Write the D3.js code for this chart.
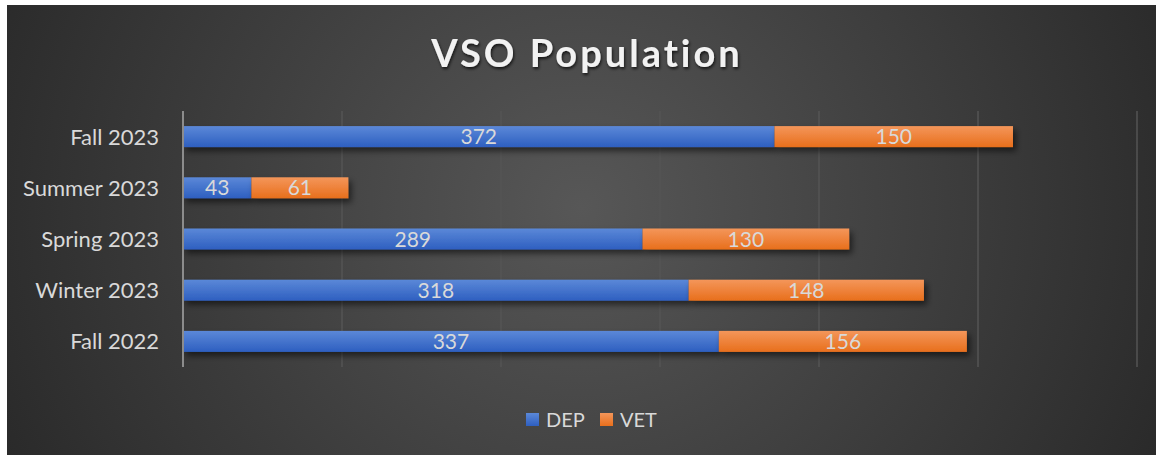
<!DOCTYPE html>
<html>
<head>
<meta charset="utf-8">
<script src="https://cdn.jsdelivr.net/npm/d3@7"></script>
<style>
  html, body { margin: 0; padding: 0; background: #fff; }
  svg { display: block; }
  text { font-family: Lato, "Open Sans", sans-serif; }
</style>
</head>
<body>
<svg id="chart"></svg>
<script>
// Data
const categories = ['Fall 2023', 'Summer 2023', 'Spring 2023', 'Winter 2023', 'Fall 2022'];
const depValues = [372, 43, 289, 318, 337];
const vetValues = [150, 61, 130, 148, 156];
const seriesNames = ['DEP', 'VET'];
const xTicks = [0, 100, 200, 300, 400, 500, 600];

const width = 1156;
const height = 455;

const svg = d3.select('#chart')
    .attr('width', width)
    .attr('height', height);

const defs = svg.append('defs');

// Background radial gradient
const bg = defs.append('radialGradient')
    .attr('id', 'bg')
    .attr('cx', '50%').attr('cy', '45%')
    .attr('r', '60%')
    .attr('gradientUnits', 'objectBoundingBox')
    .attr('gradientTransform', 'translate(0.5,0.45) scale(1,2.4) translate(-0.5,-0.45)');
bg.append('stop').attr('offset', '0%').attr('stop-color', '#575757');
bg.append('stop').attr('offset', '100%').attr('stop-color', '#262626');

// Bar gradients
const barGrads = [
    ['#5b88d8', '#2e5fc0'],
    ['#f4965a', '#e86f1c']
];
barGrads.forEach((c, i) => {
    const g = defs.append('linearGradient')
        .attr('id', 'bar' + i)
        .attr('x1', 0).attr('y1', 0).attr('x2', 0).attr('y2', 1);
    g.append('stop').attr('offset', '0%').attr('stop-color', c[0]);
    g.append('stop').attr('offset', '100%').attr('stop-color', c[1]);
});

// Shadows
const shadow = defs.append('filter').attr('id', 'shadow')
    .attr('x', '-10%').attr('y', '-50%').attr('width', '130%').attr('height', '250%');
shadow.append('feDropShadow')
    .attr('dx', 3).attr('dy', 4).attr('stdDeviation', 3)
    .attr('flood-color', '#000').attr('flood-opacity', 0.55);

const titleShadow = defs.append('filter').attr('id', 'tshadow');
titleShadow.append('feDropShadow')
    .attr('dx', 1).attr('dy', 2).attr('stdDeviation', 1.5)
    .attr('flood-color', '#000').attr('flood-opacity', 0.7);

svg.append('rect')
    .attr('x', 7).attr('y', 5)
    .attr('width', width - 7).attr('height', height - 5)
    .attr('fill', 'url(#bg)');

// Title
svg.append('text')
    .attr('x', 587).attr('y', 67)
    .attr('text-anchor', 'middle')
    .attr('fill', '#f2f2f2')
    .attr('font-size', 38)
    .attr('font-weight', 'bold')
    .attr('letter-spacing', 3)
    .attr('filter', 'url(#tshadow)')
    .text('VSO Population');

// Scales
const x = d3.scaleLinear().domain([0, 600]).range([183, 1137]);
const y = d3.scaleBand().domain(categories).range([111, 367]).paddingInner(0.59).paddingOuter(0.295);

// Gridlines
svg.append('g')
    .selectAll('line')
    .data(xTicks.slice(1))
    .join('line')
    .attr('x1', d => x(d)).attr('x2', d => x(d))
    .attr('y1', 111).attr('y2', 367)
    .attr('stroke', '#555')
    .attr('stroke-width', 1.5);

// Stack
const rows = categories.map((c, i) => ({ cat: c, DEP: depValues[i], VET: vetValues[i] }));
const stacked = d3.stack().keys(seriesNames)(rows);

const layer = svg.append('g')
    .selectAll('g')
    .data(stacked)
    .join('g');

layer.selectAll('rect')
    .data((d, i) => d.map(p => ({ p, i })))
    .join('rect')
    .attr('x', d => x(d.p[0]))
    .attr('y', d => y(d.p.data.cat))
    .attr('width', d => x(d.p[1]) - x(d.p[0]))
    .attr('height', y.bandwidth())
    .attr('fill', d => 'url(#bar' + d.i + ')')
    .attr('filter', 'url(#shadow)');

// Data labels
layer.selectAll('text')
    .data((d, i) => d.map(p => ({ p, i })))
    .join('text')
    .attr('x', d => (x(d.p[0]) + x(d.p[1])) / 2)
    .attr('y', d => y(d.p.data.cat) + y.bandwidth() / 2)
    .attr('dy', '0.36em')
    .attr('text-anchor', 'middle')
    .attr('fill', '#d9d9d9')
    .attr('font-size', 21)
    .text(d => d.p[1] - d.p[0]);

// Y axis line
svg.append('line')
    .attr('x1', x(0)).attr('x2', x(0))
    .attr('y1', 111).attr('y2', 367)
    .attr('stroke', '#8c8c8c')
    .attr('stroke-width', 2);

// Category labels
svg.append('g')
    .selectAll('text')
    .data(categories)
    .join('text')
    .attr('x', 159)
    .attr('y', d => y(d) + y.bandwidth() / 2)
    .attr('dy', '0.36em')
    .attr('text-anchor', 'end')
    .attr('fill', '#d9d9d9')
    .attr('font-size', 22)
    .text(d => d);

// Legend
const legend = svg.append('g');
const legendX = [526, 600];
seriesNames.forEach((name, i) => {
    legend.append('rect')
        .attr('x', legendX[i]).attr('y', 413)
        .attr('width', 13).attr('height', 13)
        .attr('fill', 'url(#bar' + i + ')');
    legend.append('text')
        .attr('x', legendX[i] + 20).attr('y', 419.5)
        .attr('dy', '0.36em')
        .attr('fill', '#d9d9d9')
        .attr('font-size', 20)
        .text(name);
});
</script>
</body>
</html>
